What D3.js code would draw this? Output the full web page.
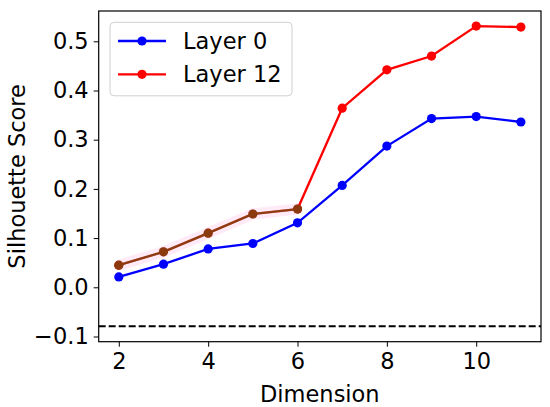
<!DOCTYPE html>
<html>
<head>
<meta charset="utf-8">
<script src="https://cdn.jsdelivr.net/npm/d3@7"></script>
<style>
  body { margin: 0; background: #fff; }
  text { font-family: "DejaVu Sans", sans-serif; fill: #000; }
</style>
</head>
<body>
<script>
// data
var dims = [2, 3, 4, 5, 6, 7, 8, 9, 10, 11];
var layer0 = [0.021, 0.047, 0.078, 0.089, 0.131, 0.207, 0.287, 0.343, 0.347, 0.336];
var layer12 = [0.045, 0.072, 0.110, 0.149, 0.159, 0.364, 0.442, 0.470, 0.531, 0.529];
var overlapDims = [2, 3, 4, 5, 6];
var baseline = -0.079;
var xTicks = [2, 4, 6, 8, 10];
var yTicks = [-0.1, 0.0, 0.1, 0.2, 0.3, 0.4, 0.5];
var seriesNames = ["Layer 0", "Layer 12"];

var width = 550, height = 407;
var plotLeft = 98.7, plotRight = 541, plotTop = 11, plotBottom = 341.7;

var svg = d3.select("body").append("svg")
    .attr("width", width)
    .attr("height", height);

var x = d3.scaleLinear().domain([1.55, 11.45]).range([plotLeft, plotRight]);
var y = d3.scaleLinear().domain([-0.1106, 0.5616]).range([plotBottom, plotTop]);

var line = d3.line()
    .x(function(d) { return x(d[0]); })
    .y(function(d) { return y(d[1]); });

var pts0 = dims.map(function(d, i) { return [d, layer0[i]]; });
var pts12 = dims.map(function(d, i) { return [d, layer12[i]]; });
var ptsOver = pts12.filter(function(p) { return overlapDims.indexOf(p[0]) >= 0; });

// dashed reference line
svg.append("line")
    .attr("x1", plotLeft).attr("x2", plotRight)
    .attr("y1", y(baseline)).attr("y2", y(baseline))
    .attr("stroke", "#000")
    .attr("stroke-width", 2)
    .attr("stroke-dasharray", "7,3");

function drawSeries(pts, color) {
  svg.append("path")
      .attr("d", line(pts))
      .attr("stroke", color)
      .attr("stroke-width", 2.3)
      .attr("fill", "none");
  svg.append("g").selectAll("circle")
      .data(pts)
      .enter().append("circle")
      .attr("cx", function(d) { return x(d[0]); })
      .attr("cy", function(d) { return y(d[1]); })
      .attr("r", 4.6)
      .attr("fill", color);
}

drawSeries(pts0, "#0000ff");
drawSeries(pts12, "#ff0000");

// faint pink halo + brown overlap on the first dimensions
svg.append("path")
    .attr("d", line(ptsOver))
    .attr("stroke", "#ffdcf4")
    .attr("stroke-width", 11)
    .attr("stroke-opacity", 0.6)
    .attr("fill", "none");
svg.append("path")
    .attr("d", line(ptsOver))
    .attr("stroke", "#8e3b12")
    .attr("stroke-width", 2.3)
    .attr("fill", "none");
svg.append("g").selectAll("circle")
    .data(ptsOver)
    .enter().append("circle")
    .attr("cx", function(d) { return x(d[0]); })
    .attr("cy", function(d) { return y(d[1]); })
    .attr("r", 4.6)
    .attr("fill", "#8b3a10");

// axes
var fmt = function(d) { return d3.format(".1f")(d).replace("-", "\u2212"); };

var xAxis = svg.append("g")
    .attr("transform", "translate(0," + plotBottom + ")")
    .call(d3.axisBottom(x).tickValues(xTicks).tickSize(5).tickPadding(6).tickFormat(d3.format("d")));
var yAxis = svg.append("g")
    .attr("transform", "translate(" + plotLeft + ",0)")
    .call(d3.axisLeft(y).tickValues(yTicks).tickSize(5).tickPadding(5).tickFormat(fmt));

[xAxis, yAxis].forEach(function(a) {
  a.select(".domain").remove();
  a.selectAll("line").attr("stroke", "#000").attr("stroke-width", 1);
  a.selectAll("text").style("font-size", "22.5px").attr("font-family", "DejaVu Sans");
});

svg.append("rect")
    .attr("x", plotLeft).attr("y", plotTop)
    .attr("width", plotRight - plotLeft).attr("height", plotBottom - plotTop)
    .attr("fill", "none")
    .attr("stroke", "#000")
    .attr("stroke-width", 1.2);

// axis labels
svg.append("text")
    .attr("x", (plotLeft + plotRight) / 2)
    .attr("y", 402)
    .attr("text-anchor", "middle")
    .style("font-size", "22.5px")
    .text("Dimension");

svg.append("text")
    .attr("transform", "translate(25," + ((plotTop + plotBottom) / 2) + ") rotate(-90)")
    .attr("text-anchor", "middle")
    .style("font-size", "22.5px")
    .text("Silhouette Score");

// legend
var legend = svg.append("g");
legend.append("rect")
    .attr("x", 110).attr("y", 22.3)
    .attr("width", 182).attr("height", 73.5)
    .attr("rx", 4)
    .attr("fill", "#fff")
    .attr("fill-opacity", 0.8)
    .attr("stroke", "#d0d0d0")
    .attr("stroke-width", 1);

var legendColors = ["#0000ff", "#ff0000"];
seriesNames.forEach(function(name, i) {
  var ly = 41 + i * 33.3;
  legend.append("line")
      .attr("x1", 118).attr("x2", 166)
      .attr("y1", ly).attr("y2", ly)
      .attr("stroke", legendColors[i])
      .attr("stroke-width", 2.3);
  legend.append("circle")
      .attr("cx", 142).attr("cy", ly).attr("r", 4.6)
      .attr("fill", legendColors[i]);
  legend.append("text")
      .attr("x", 183).attr("y", ly + 8)
      .style("font-size", "22.5px")
      .text(name);
});
</script>
</body>
</html>
